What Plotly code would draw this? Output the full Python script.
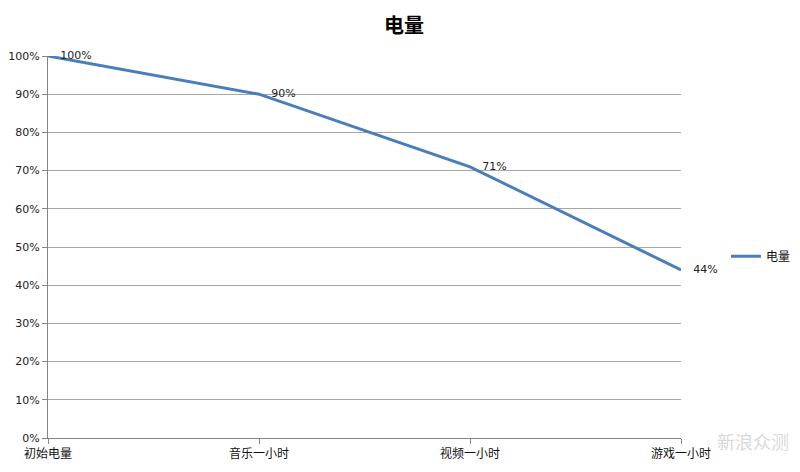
import plotly.graph_objects as go

categories = ["初始电量", "音乐一小时", "视频一小时", "游戏一小时"]
values = [100, 90, 71, 44]
series_name = "电量"
y_ticks = list(range(0, 101, 10))
y_tick_labels = [f"{v}%" for v in y_ticks]
data_labels = [f"{v}%" for v in values]

font_family = "Noto Sans CJK SC, DejaVu Sans, sans-serif"
xs = list(range(len(categories)))

fig = go.Figure()
fig.add_trace(go.Scatter(
    x=xs, y=values, name=series_name, mode="lines",
    line=dict(color="#4A7EBB", width=3), cliponaxis=False,
))
fig.add_trace(go.Scatter(
    x=xs, y=values, name=series_name, mode="markers+text", showlegend=False,
    text=data_labels, textposition="middle right",
    textfont=dict(size=11, color="#222222", family="DejaVu Sans, sans-serif"),
    marker=dict(size=18, opacity=0, color="#4A7EBB"),
    cliponaxis=False, hoverinfo="skip",
))

fig.update_layout(
    width=792, height=464,
    paper_bgcolor="white", plot_bgcolor="white",
    margin=dict(l=40, r=119, t=48, b=34, autoexpand=False),
    title=dict(text="<b>电量</b>", xref="container", x=0.5, xanchor="center",
               yref="container", y=0.962, yanchor="middle",
               font=dict(size=20, color="#000000", family=font_family)),
    font=dict(family=font_family, color="#222222"),
    showlegend=True,
    legend=dict(x=1.071, y=0.476, xanchor="left", yanchor="middle",
                font=dict(size=12, color="#111111", family=font_family),
                bgcolor="rgba(0,0,0,0)"),
    xaxis=dict(
        range=[0, 3], tickmode="array", tickvals=xs,
        ticktext=categories, showgrid=False, zeroline=False, automargin=False,
        showline=True, linecolor="#868686", linewidth=1,
        ticks="outside", ticklen=5, tickcolor="#868686",
        tickfont=dict(size=12, color="#111111", family=font_family),
    ),
    yaxis=dict(
        range=[0, 100], tickmode="array", tickvals=y_ticks, ticktext=y_tick_labels,
        showgrid=True, gridcolor="#A6A6A6", gridwidth=1, zeroline=False, automargin=False,
        showline=True, linecolor="#868686", linewidth=1,
        ticks="outside", ticklen=5, tickcolor="#868686",
        tickfont=dict(size=11, color="#222222", family="DejaVu Sans, sans-serif"),
    ),
)

fig.add_annotation(text="新浪众测", xref="paper", yref="paper", x=1.0, y=0.0,
                   xshift=110, yshift=-18, showarrow=False, xanchor="right",
                   font=dict(size=18, color="rgba(200,200,200,0.7)", family=font_family))

fig.write_html("out.html")
